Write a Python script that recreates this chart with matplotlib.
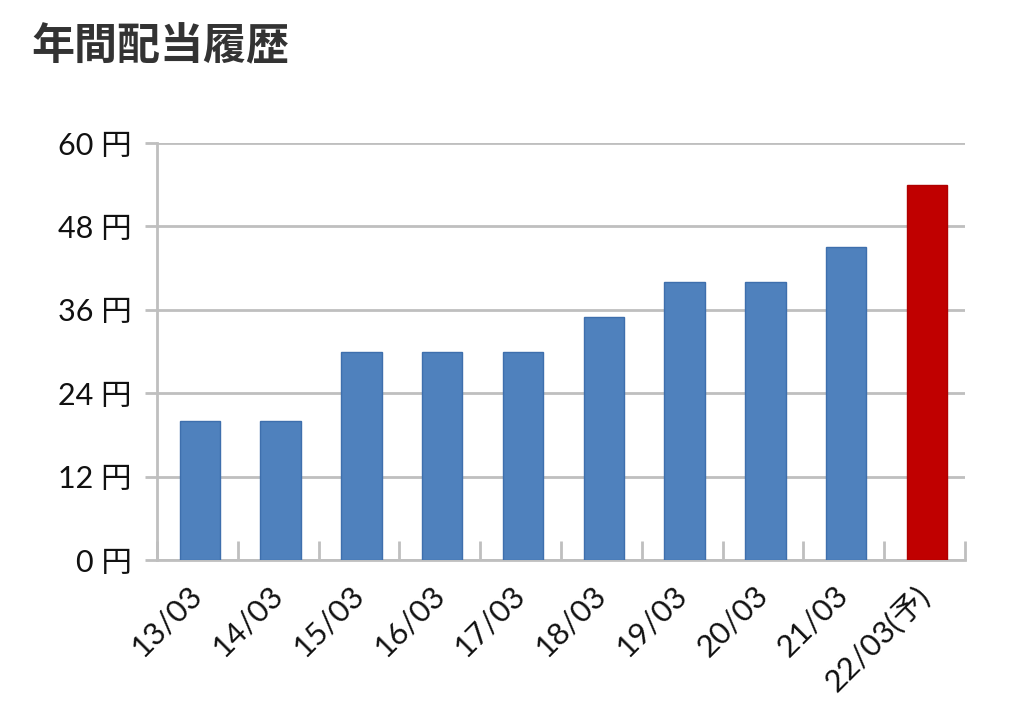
import matplotlib
matplotlib.use("Agg")
import matplotlib.pyplot as plt
from matplotlib.ticker import FixedLocator
import numpy as np

plt.rcParams['font.family'] = ['Noto Sans CJK JP', 'DejaVu Sans']

categories = ["13/03", "14/03", "15/03", "16/03", "17/03", "18/03", "19/03", "20/03", "21/03", "22/03(予)"]
values = [20, 20, 30, 30, 30, 35, 40, 40, 45, 54]
yticks = [0, 12, 24, 36, 48, 60]
ytick_labels = ["0 円", "12 円", "24 円", "36 円", "48 円", "60 円"]
title = "年間配当履歴"

blue = "#4F81BD"
blue_edge = "#3E6FAD"
red = "#C00000"
red_edge = "#B00000"
grid_col = "#BFBFBF"
tick_family = ['Lato', 'Noto Sans CJK JP', 'DejaVu Sans']

fig = plt.figure(figsize=(10.24, 7.28), dpi=100)
ax = fig.add_axes([157/1024, 1-560/728, (965-157)/1024, (560-143)/728])

x = np.arange(len(categories))
colors = [blue]*(len(values)-1) + [red]
edges = [blue_edge]*(len(values)-1) + [red_edge]
ax.bar(x + 0.03, values, width=0.5, color=colors, edgecolor=edges, linewidth=1, zorder=3)

ax.set_xlim(-0.5, len(categories)-0.5)
ax.set_ylim(0, 60)
ax.set_yticks(yticks)
ax.set_yticklabels(ytick_labels, fontsize=22, color="#111111", family=tick_family)
ax.yaxis.grid(True, color=grid_col, linewidth=2, zorder=0)
ax.tick_params(axis='y', length=9, width=2, color=grid_col, pad=9)

ax.set_xticks(x)
ax.set_xticklabels(categories, fontsize=22.5, color="#111111", rotation=45,
                   ha='right', va='center', rotation_mode='anchor', family=tick_family)
ax.tick_params(axis='x', which='major', length=0, pad=22)
ax.xaxis.set_minor_locator(FixedLocator(np.arange(-0.5, len(categories), 1.0)))
ax.tick_params(axis='x', which='minor', direction='in', length=14, width=2, color=grid_col)

for s in ['top', 'right']:
    ax.spines[s].set_visible(False)
for s in ['left', 'bottom']:
    ax.spines[s].set_color(grid_col)
    ax.spines[s].set_linewidth(2)
ax.set_axisbelow(True)

fig.text(31/1024, 1-46/728, title, fontsize=31, fontweight='bold', color="#333333",
         ha='left', va='center')

fig.savefig("out.png", dpi=100)
